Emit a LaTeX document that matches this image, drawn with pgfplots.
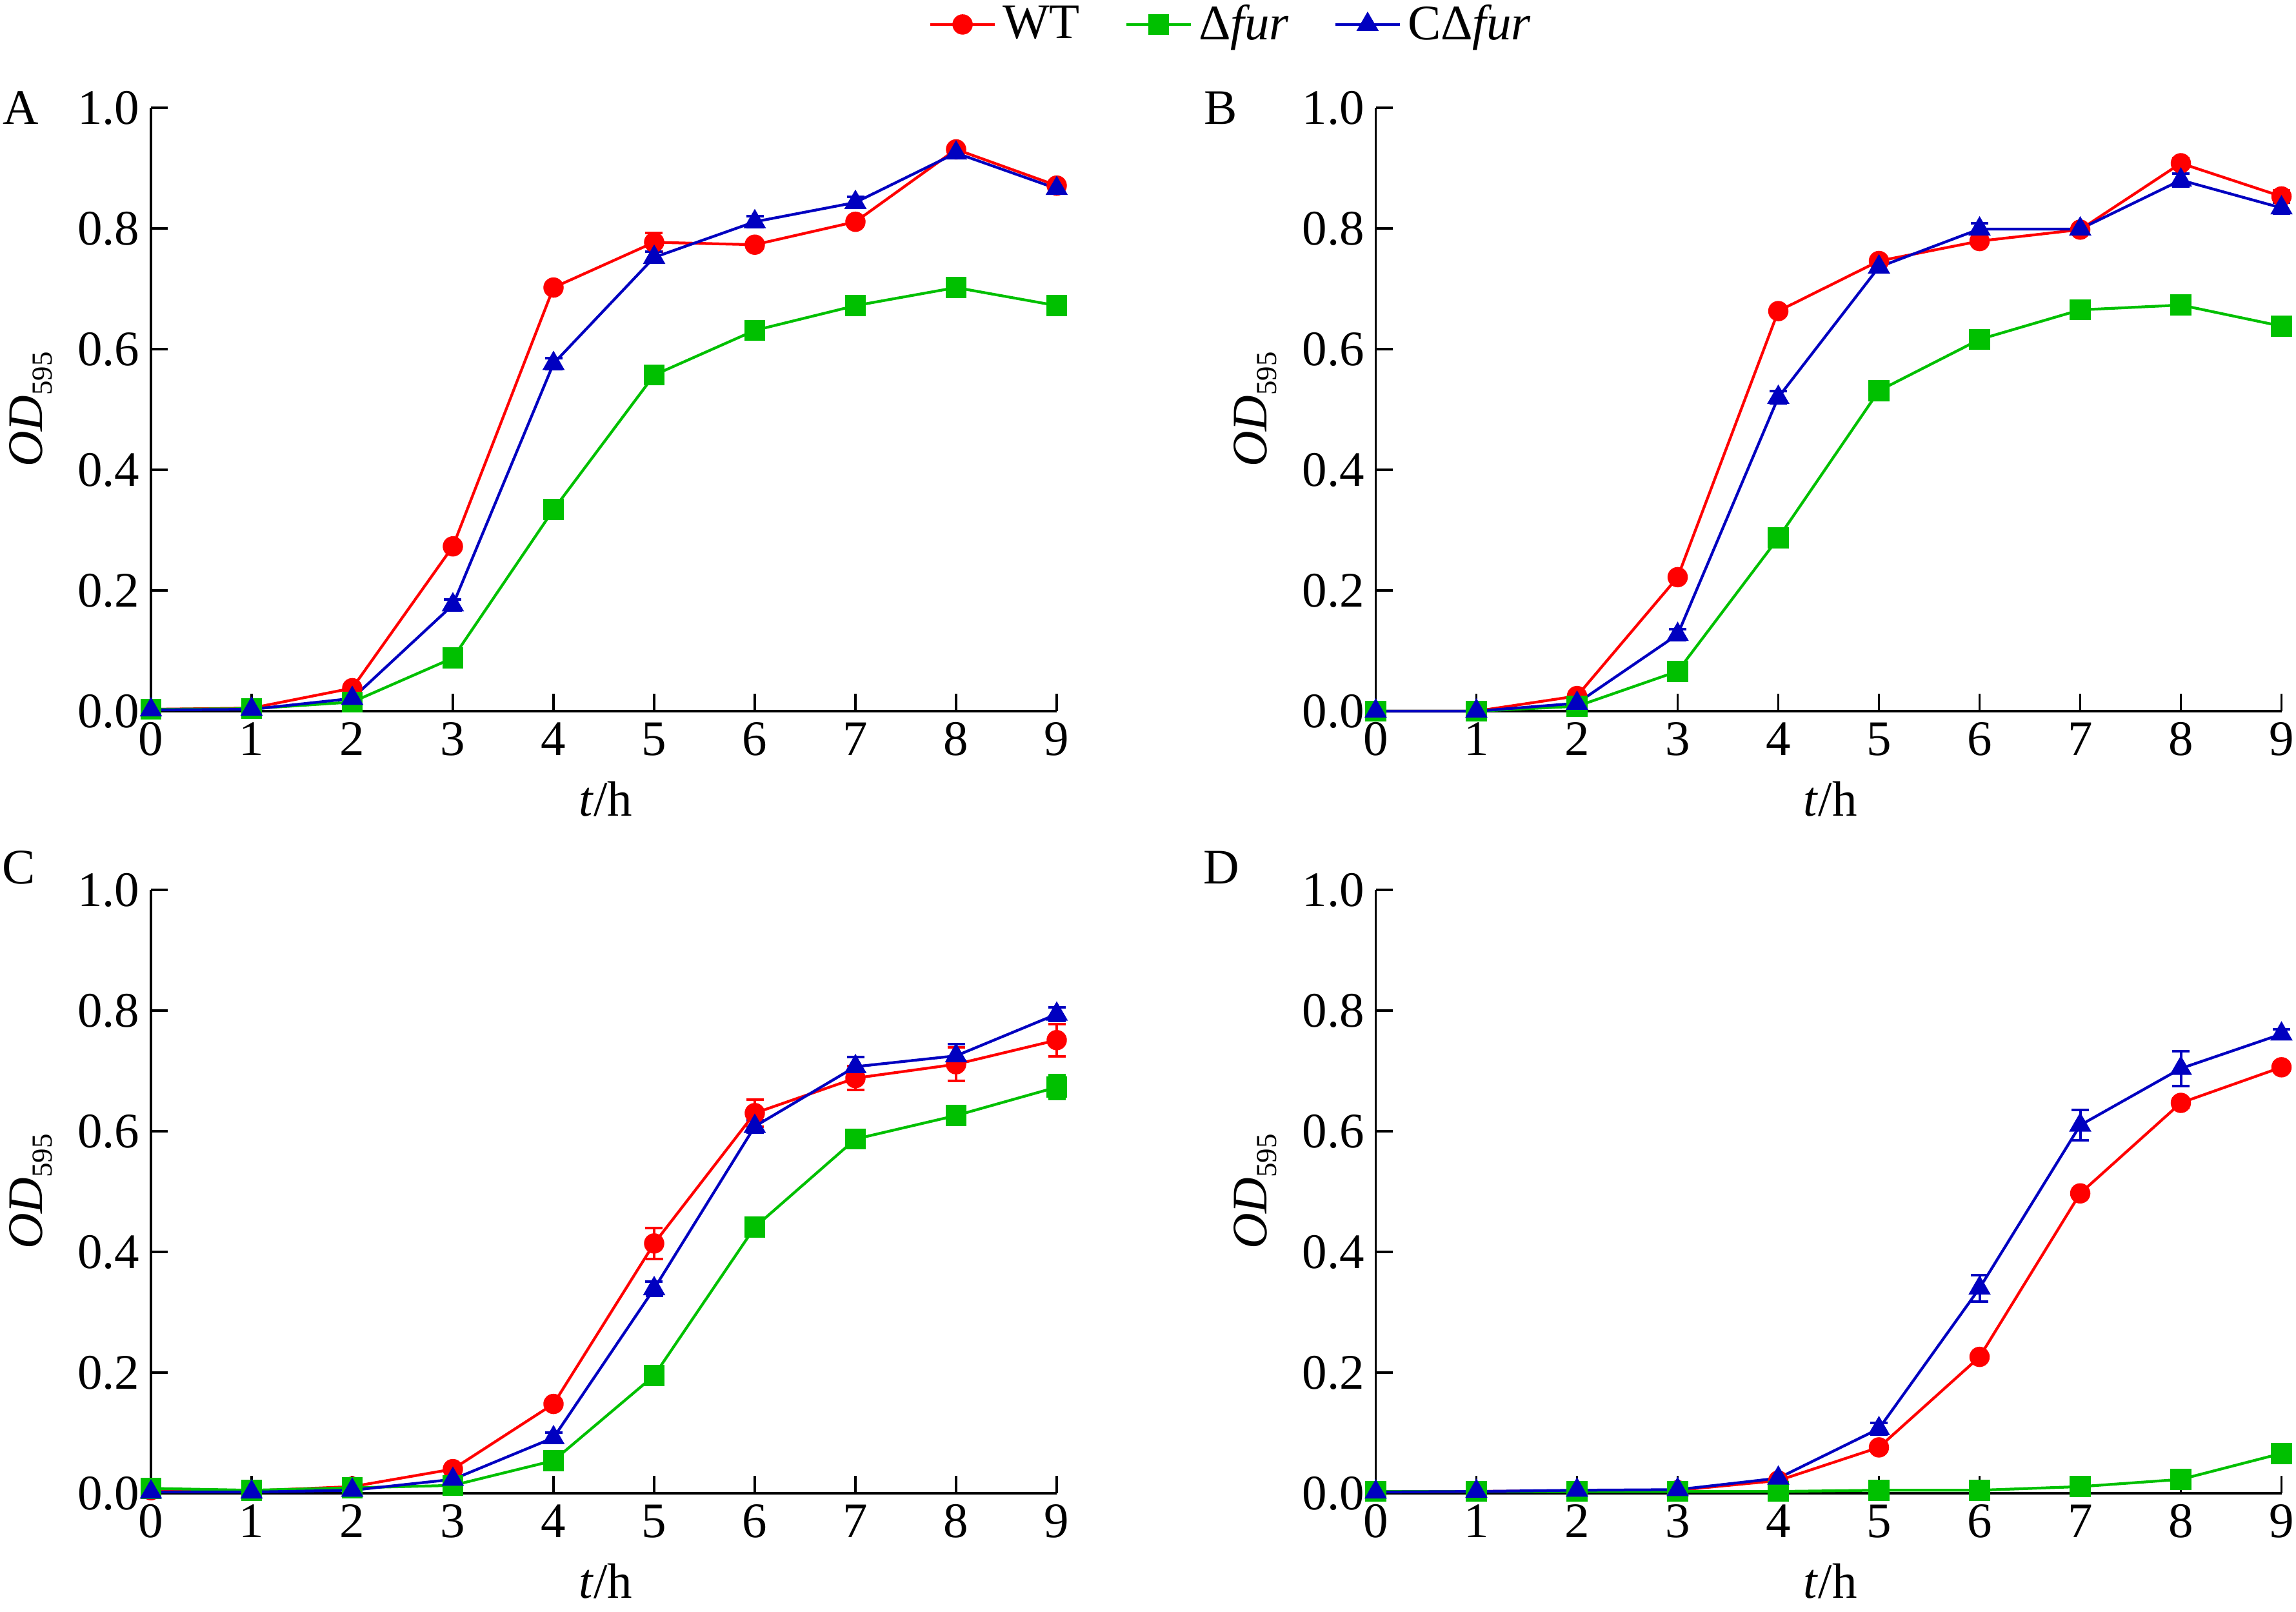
\documentclass[border=0pt]{standalone}
\usepackage{fontspec}
\setmainfont{Liberation Serif}
\setsansfont{Liberation Serif}
\newfontfamily\lserif{Liberation Serif}
\usepackage{pgfplots}
\usepackage{pgfplotstable}
\pgfplotsset{compat=1.18}
\definecolor{cR}{HTML}{FF0000}
\definecolor{cG}{HTML}{00C000}
\definecolor{cB}{HTML}{0000C0}
\newcommand\chartfont{\lserif\fontsize{15.4}{18.5}\selectfont}

\pgfplotstableread{
x wt df c
0 0.003 0.003 0.002
1 0.005 0.004 0.003
2 0.038 0.015 0.021
3 0.273 0.088 0.176
4 0.702 0.334 0.576
5 0.777 0.557 0.752
6 0.773 0.631 0.811
7 0.811 0.672 0.843
8 0.931 0.702 0.925
9 0.871 0.672 0.866
}\dataA
\pgfplotstableread{
x wt df c
0 0.000 0.000 0.000
1 0.000 0.000 0.000
2 0.025 0.008 0.013
3 0.222 0.066 0.127
4 0.663 0.287 0.520
5 0.746 0.531 0.736
6 0.779 0.616 0.799
7 0.798 0.665 0.799
8 0.908 0.673 0.880
9 0.853 0.638 0.834
}\dataB
\pgfplotstableread{
x wt df c
0 0.005 0.008 0.002
1 0.004 0.005 0.002
2 0.011 0.009 0.005
3 0.040 0.013 0.023
4 0.148 0.054 0.092
5 0.414 0.195 0.339
6 0.630 0.441 0.608
7 0.688 0.587 0.707
8 0.711 0.626 0.725
9 0.751 0.673 0.794
}\dataC
\pgfplotstableread{
x wt df c
0 0.003 0.003 0.002
1 0.003 0.003 0.003
2 0.004 0.003 0.005
3 0.005 0.003 0.006
4 0.021 0.003 0.025
5 0.076 0.005 0.107
6 0.226 0.005 0.340
7 0.497 0.011 0.610
8 0.647 0.023 0.704
9 0.706 0.066 0.761
}\dataD

\pgfplotsset{
  panel/.style={
    scale only axis, width=280.8pt, height=187pt, anchor=south west,
    xmin=0, xmax=9, ymin=0, ymax=1,
    axis lines=left, axis line style={-, line width=0.75pt, black},
    xtick={0,1,2,3,4,5,6,7,8,9}, ytick={0,0.2,0.4,0.6,0.8,1.0},
    tick align=inside, major tick length=5.3pt,
    tick style={line width=0.75pt, black},
    yticklabel style={/pgf/number format/fixed, /pgf/number format/fixed zerofill, /pgf/number format/precision=1},
    /pgf/number format/assume math mode=true,
    tick label style={font=\chartfont},
    label style={font=\chartfont},
    xlabel={\textit{t}/h},
    ylabel={\textit{OD}\raisebox{-3pt}{\fontsize{9}{10}\selectfont 595}},
    xlabel style={at={(axis description cs:0.502,-0.1455)}, anchor=center},
    ylabel style={at={(axis description cs:-0.133,0.5)}, anchor=center},
    clip=false,
  },
  eb/.style={only marks, mark=*, mark size=0pt, forget plot, #1,
    error bars/.cd, y dir=both, y explicit, error mark=|,
    error bar style={line width=0.8pt, #1, solid},
    error mark options={mark size=2.7pt, line width=0.8pt, #1, solid}},
  wt/.style={color=cR, line width=0.85pt, mark=*, mark size=3pt, mark options={solid, fill=cR, draw=cR, line width=0.3pt}},
  df/.style={color=cG, line width=0.85pt, mark=square*, mark size=3.1pt, mark options={solid, fill=cG, draw=cG, line width=0.3pt}},
  cc/.style={color=cB, line width=0.85pt, mark=triangle*, mark size=3.7pt, mark options={solid, fill=cB, draw=cB, line width=0.3pt}},
}

\begin{document}
\begin{tikzpicture}[font=\chartfont]
\path[use as bounding box] (0,0) rectangle (711.8pt,499.6pt);

% Panel A
\begin{axis}[panel, at={(46.8pt,279.2pt)},
  legend columns=3,
  legend style={at={(axis description cs:1.1948,1.138)}, anchor=center, draw=none, fill=none, font=\chartfont,
    /tikz/every even column/.append style={column sep=12pt}},
  legend image code/.code={\draw[mark repeat=2,mark phase=2,#1] plot coordinates {(0pt,0pt) (10pt,0pt) (20pt,0pt)};}]
\addplot[eb=cR] coordinates {(5,0.777) +- (0,0.016)};
\addplot[eb=cB] coordinates {(3,0.176) +- (0,0.009) (4,0.576) +- (0,0.009) (5,0.752) +- (0,0.009) (6,0.811) +- (0,0.009) (7,0.843) +- (0,0.009) (8,0.925) +- (0,0.006) (9,0.866) +- (0,0.006)};
\addplot[wt] table[x=x,y=wt]{\dataA}; \addlegendentry{WT}
\addplot[df] table[x=x,y=df]{\dataA}; \addlegendentry{Δ\textit{fur}}
\addplot[cc] table[x=x,y=c]{\dataA}; \addlegendentry{CΔ\textit{fur}}
\end{axis}

% Panel B
\begin{axis}[panel, at={(426.5pt,279.2pt)}]
\addplot[eb=cR] coordinates {(8,0.908) +- (0,0.008) (9,0.853) +- (0,0.01)};
\addplot[eb=cB] coordinates {(3,0.127) +- (0,0.009) (4,0.520) +- (0,0.01) (5,0.736) +- (0,0.009) (6,0.799) +- (0,0.009) (8,0.880) +- (0,0.011) (9,0.834) +- (0,0.009)};
\addplot[wt] table[x=x,y=wt]{\dataB};
\addplot[df] table[x=x,y=df]{\dataB};
\addplot[cc] table[x=x,y=c]{\dataB};
\end{axis}

% Panel C
\begin{axis}[panel, at={(46.8pt,36.8pt)}]
\addplot[eb=cR] coordinates {(5,0.414) +- (0,0.026) (6,0.630) +- (0,0.022) (7,0.688) +- (0,0.02) (8,0.711) +- (0,0.028) (9,0.751) +- (0,0.027)};
\addplot[eb=cG] coordinates {(9,0.673) +- (0,0.02)};
\addplot[eb=cB] coordinates {(4,0.092) +- (0,0.008) (5,0.339) +- (0,0.012) (6,0.608) +- (0,0.01) (7,0.707) +- (0,0.016) (8,0.725) +- (0,0.019) (9,0.794) +- (0,0.011)};
\addplot[wt] table[x=x,y=wt]{\dataC};
\addplot[df] table[x=x,y=df]{\dataC};
\addplot[cc] table[x=x,y=c]{\dataC};
\end{axis}

% Panel D
\begin{axis}[panel, at={(426.5pt,36.8pt)}]
\addplot[eb=cR] coordinates {(8,0.647) +- (0,0.008) (9,0.706) +- (0,0.008)};
\addplot[eb=cB] coordinates {(5,0.107) +- (0,0.01) (6,0.340) +- (0,0.022) (7,0.610) +- (0,0.025) (8,0.704) +- (0,0.029) (9,0.761) +- (0,0.008)};
\addplot[wt] table[x=x,y=wt]{\dataD};
\addplot[df] table[x=x,y=df]{\dataD};
\addplot[cc] table[x=x,y=c]{\dataD};
\end{axis}

\node[font=\chartfont] at (6.4pt,466.2pt) {A};
\node[font=\chartfont] at (378.4pt,466.2pt) {B};
\node[font=\chartfont] at (5.8pt,230.8pt) {C};
\node[font=\chartfont] at (378.6pt,230.8pt) {D};
\end{tikzpicture}
\end{document}
